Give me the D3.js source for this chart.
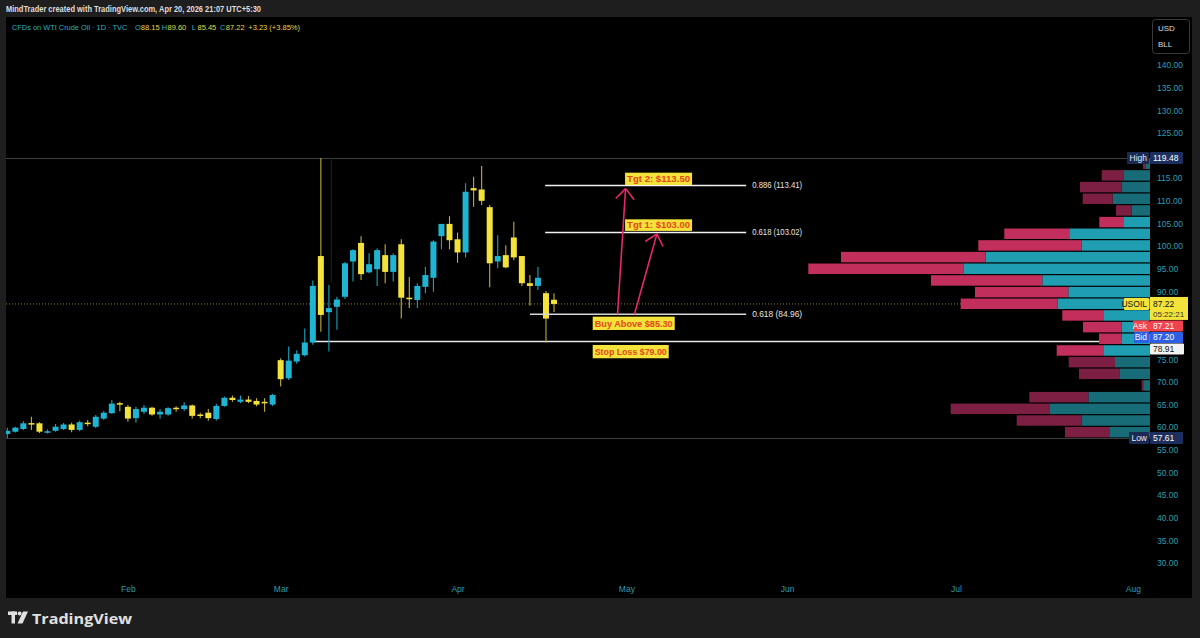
<!DOCTYPE html>
<html><head><meta charset="utf-8">
<script src="https://cdn.jsdelivr.net/npm/d3@7"></script>
<style>
body{margin:0;background:#1e1e1e;}
svg{display:block;font-family:"Liberation Sans","Open Sans",sans-serif;}
</style>
</head><body>
<svg id="c" width="1200" height="638"></svg>
<script>
// ---------- DATA ----------
const opens = [
  58.5,59.0,59.6,60.9,60.85,58.9,59.2,59.6,60.6,59.4,61.0,60.1,61.9,63.1,65.3,64.5,62.0,
  63.4,64.3,62.8,62.8,64.3,64.0,64.8,62.8,63.2,61.8,64.7,66.5,65.6,66.1,65.8,65.6,65.0,
  74.8,70.8,74.5,75.9,78.7,97.8,85.4,86.6,88.8,96.6,100.7,94.2,94.9,98.0,94.3,100.4,88.6,
  88.1,91.0,93.0,102.2,104.9,101.5,98.6,112.8,112.5,108.6,96.6,98.0,101.9,97.8,91.8,91.2,89.6,88.15];
const highs = [
  59.9,60.1,61.3,62.3,61.1,59.5,60.7,60.9,61.0,61.5,61.6,62.7,63.6,66.0,65.6,64.9,64.5,
  64.9,64.5,64.0,64.4,64.6,65.5,65.0,63.2,64.0,65.2,66.8,67.0,67.0,66.9,66.4,66.4,67.4,
  75.2,77.8,77.0,81.8,92.4,119.48,91.4,88.8,96.5,99.3,102.2,98.4,99.5,100.4,98.4,101.5,93.2,
  91.8,95.4,101.3,104.9,106.6,103.0,113.9,115.3,117.7,109.1,102.4,100.2,105.4,97.8,93.6,95.4,90.1,89.60];
const lows = [
  57.61,58.8,59.4,59.4,58.7,58.6,59.0,59.4,58.9,59.1,60.2,59.8,61.6,62.9,63.5,61.2,61.0,
  62.9,62.5,61.9,62.5,63.4,63.6,61.9,62.0,61.4,61.5,64.5,65.6,65.3,65.3,64.6,63.4,64.7,
  69.0,70.4,74.0,75.6,78.2,81.1,76.7,81.5,88.3,92.2,92.5,94.0,91.2,91.8,92.2,84.0,86.3,
  86.3,89.6,89.9,99.3,99.3,96.3,97.5,108.7,109.1,90.9,95.1,95.1,96.9,91.2,86.8,90.3,78.7,85.45];
const closes = [
  59.2,59.9,60.85,60.7,59.0,59.1,60.1,60.6,59.4,61.1,60.8,62.3,63.2,65.2,65.0,61.9,64.0,
  64.3,62.8,63.4,64.2,64.0,64.8,62.5,62.5,62.0,64.7,66.5,66.0,66.1,65.6,65.0,65.3,67.1,
  70.6,74.7,76.2,78.7,91.2,84.8,86.3,88.2,96.2,99.1,93.8,96.0,99.1,94.3,98.0,88.6,88.3,
  91.2,93.6,101.0,104.9,101.3,98.6,112.0,112.3,110.0,96.2,97.8,95.3,97.5,91.8,91.2,93.0,83.99,87.22];

const monthLabels = ["Feb","Mar","Apr","May","Jun","Jul","Aug"];
const monthBars   = [15,34,56,77,97,118,140];
const priceTicks  = [30,35,40,45,50,55,60,65,70,75,80,85,90,95,100,105,110,115,120,125,130,135,140];

// volume profile rows (bottom -> top), from period low to period high
const profileLow = 57.61, profileHigh = 119.48;
const profileUp   = [40,68.3,100.7,61.7,6,30.7,35,46,28.3,28.3,46,92.3,81.7,107.7,186.7,164.3,68.3,80,26,18.3,37.3,28.3,26.7,4];
const profileDown = [45,65,98.6,59,2.3,40.3,46.3,47.3,22.7,38.7,41.7,97,93.3,111.3,155,144.7,103.4,65.7,24.7,15.7,30,41.7,21.6,3];
const valueAreaRows = [7,18];

const lastPrice = 87.22, askPrice = 87.21, bidPrice = 87.20, stopLevel = 78.91;
const fibLabels = ["0.886 (113.41)","0.618 (103.02)","0.618 (84.96)"];
const fibPrices = [113.41,103.02,84.96];
const fibStartBar = [66.9,66.9,65.0];
const fibEndBar = 91.9;
const noteTexts  = ["Tgt 2: $113.50","Tgt 1: $103.00","Buy Above $85.30","Stop Loss $79.00"];
const arrowFrom = [[75.9,84.96],[78.0,84.96]];
const arrowTo   = [[76.9,112.7],[80.8,102.7]];

// ---------- SETUP ----------
const svg = d3.select("#c");
const W=1200,H=638;
const x = d3.scaleLinear().domain([0,140]).range([7.3,1132.9]);
const y = d3.scaleLinear().domain([30,140]).range([563,65]);
const vol = d3.scaleLinear().domain([0,350]).range([0,350]);
const profileRight = 1150;

const UP="#1fb5d2", DN="#f4e23c", UPW="#1aa3bd", DNW="#bfb036";

svg.append("rect").attr("width",W).attr("height",H).attr("fill","#1e1e1e");
svg.append("rect").attr("x",6).attr("y",17).attr("width",1186).attr("height",581).attr("fill","#000");

const defs = svg.append("defs");
defs.append("clipPath").attr("id","plot").append("rect").attr("x",6).attr("y",17).attr("width",1144).attr("height",581);
const plot = svg.append("g").attr("clip-path","url(#plot)");

// high / low lines
[profileHigh, profileLow].forEach(p=>{
  plot.append("line").attr("x1",6).attr("x2",profileRight).attr("y1",Math.round(y(p))+0.5).attr("y2",Math.round(y(p))+0.5)
    .attr("stroke","#3e3e3e").attr("stroke-width",1);
});
// faint vertical anchor line
plot.append("line").attr("x1",x(40.3)).attr("x2",x(40.3)).attr("y1",y(profileHigh)).attr("y2",y(92))
  .attr("stroke","#24221a").attr("stroke-width",1);

// current price dotted line
plot.append("line").attr("x1",6).attr("x2",profileRight).attr("y1",y(lastPrice)).attr("y2",y(lastPrice))
  .attr("stroke","#8a7e2a").attr("stroke-width",1).attr("stroke-dasharray","1,2");

// stop line
plot.append("line").attr("x1",x(38)).attr("x2",profileRight).attr("y1",y(stopLevel)).attr("y2",y(stopLevel))
  .attr("stroke","#e8e8e8").attr("stroke-width",1.5);

// candles
const bars = d3.range(opens.length).map(i=>({i,o:opens[i],h:highs[i],l:lows[i],c:closes[i]}));
const cg = plot.append("g");
cg.selectAll("line.w").data(bars).join("line")
  .attr("x1",d=>x(d.i)).attr("x2",d=>x(d.i)).attr("y1",d=>y(d.h)).attr("y2",d=>y(d.l))
  .attr("stroke",d=>d.c>=d.o?UPW:DNW).attr("stroke-width",1.1);
cg.selectAll("rect.b").data(bars).join("rect")
  .attr("x",d=>x(d.i)-3).attr("width",6)
  .attr("y",d=>y(Math.max(d.o,d.c)))
  .attr("height",d=>Math.max(1.5,Math.abs(y(d.o)-y(d.c))))
  .attr("fill",d=>d.c>=d.o?UP:DN);

// fib lines
fibPrices.forEach((p,k)=>{
  plot.append("line").attr("x1",x(fibStartBar[k])).attr("x2",x(fibEndBar)).attr("y1",y(p)).attr("y2",y(p))
    .attr("stroke",k==2?"#d6d6d6":"#f2f2f2").attr("stroke-width",1.5);
  svg.append("text").attr("x",x(fibEndBar)+6).attr("y",y(p)+3).attr("fill","#e6e6e6")
    .attr("font-size",8.5).attr("textLength",50).attr("lengthAdjust","spacingAndGlyphs").text(fibLabels[k]);
});

// volume profile
const step = (profileHigh-profileLow)/profileUp.length;
const rows = profileUp.map((u,k)=>({k,u,d:profileDown[k],lo:profileLow+k*step,hi:profileLow+(k+1)*step}));
const pg = plot.append("g");
rows.forEach(r=>{
  const inVA = r.k>=valueAreaRows[0] && r.k<=valueAreaRows[1];
  const yt = y(r.hi)+0.6, h = y(r.lo)-y(r.hi)-1.2;
  const upW = vol(r.u), dnW = vol(r.d);
  pg.append("rect").attr("x",profileRight-upW).attr("y",yt).attr("width",upW).attr("height",h)
    .attr("fill",inVA?"#1f9eb1":"#176c78");
  pg.append("rect").attr("x",profileRight-upW-dnW).attr("y",yt).attr("width",dnW).attr("height",h)
    .attr("fill",inVA?"#c32f5d":"#7c1f42");
});

// arrows
const PINK="#e8266a";
arrowFrom.forEach((f,k)=>{
  const x1=x(f[0]),y1=y(f[1]),x2=x(arrowTo[k][0]),y2=y(arrowTo[k][1]);
  svg.append("line").attr("x1",x1).attr("y1",y1).attr("x2",x2).attr("y2",y2).attr("stroke",PINK).attr("stroke-width",1.6);
  const a=Math.atan2(y1-y2,x1-x2), L=14, s=0.72;
  [a+s,a-s].forEach(b=>{
    svg.append("line").attr("x1",x2).attr("y1",y2).attr("x2",x2+L*Math.cos(b)).attr("y2",y2+L*Math.sin(b))
      .attr("stroke",PINK).attr("stroke-width",1.6);
  });
});

// note boxes
function note(txt,bx,by,bw,bh){
  svg.append("rect").attr("x",bx).attr("y",by).attr("width",bw).attr("height",bh).attr("fill","#f4e33a");
  svg.append("text").attr("x",bx+2).attr("y",by+bh-3).attr("fill","#e4471b").attr("font-size",9.5)
    .attr("font-weight","bold").attr("textLength",bw-4).attr("lengthAdjust","spacingAndGlyphs").text(txt);
}
note(noteTexts[0], x(76.9)-0.5, y(fibPrices[0])-12.7, 67, 12.3);
note(noteTexts[1], x(76.9)-0.5, y(fibPrices[1])-13.1, 67, 11.6);
note(noteTexts[2], x(72.9)-0.7, y(fibPrices[2])+2.5, 82, 13.3);
note(noteTexts[3], x(72.9)-0.7, y(stopLevel)+3.4, 76, 13.3);

// ---------- PRICE SCALE LABEL BOXES (to hide covered ticks) ----------
const yH=y(profileHigh), yL=y(profileLow), yP=y(lastPrice);
const covered = [[yH-6,yH+6],[yP-7,yP+50.5],[yL-6,yL+6]];
const visibleTicks = priceTicks.filter(t=>{
  const ty=y(t); return !covered.some(c=>ty+4>c[0] && ty-4<c[1]);
});

// ---------- AXES ----------
const ya = svg.append("g").attr("transform","translate(1154,0)")
  .call(d3.axisRight(y).tickValues(visibleTicks).tickFormat(d3.format(".2f")).tickSize(0).tickPadding(3));
ya.select(".domain").remove();
ya.selectAll("text").attr("fill","#2d9db0").attr("font-size",8.5).attr("font-family","Liberation Sans");

const xa = svg.append("g").attr("transform","translate(0,582)")
  .call(d3.axisBottom(x).tickValues(monthBars).tickFormat((d,i)=>monthLabels[i]).tickSize(0).tickPadding(4));
xa.select(".domain").remove();
xa.selectAll("text").attr("fill","#2d9db0").attr("font-size",8.5).attr("font-family","Liberation Sans");

// ---------- PRICE SCALE LABELS ----------
function tag(txt,bx,by,bw,bh,bg,fg,anchor){
  svg.append("rect").attr("x",bx).attr("y",by).attr("width",bw).attr("height",bh).attr("fill",bg).attr("rx",1);
  svg.append("text").attr("x",anchor==="end"?bx+bw-2:bx+3).attr("y",by+bh/2+3).attr("text-anchor",anchor==="end"?"end":"start")
    .attr("fill",fg).attr("font-size",8.5).attr("font-family","Liberation Sans").text(txt);
}
tag("High",1127,yH-6,22,12,"#1b2a52","#e8e8f0","end");
tag(d3.format(".2f")(profileHigh),1150,yH-6,33,12,"#1c2f5e","#ffffff");
tag("Low",1129,yL-6,20,12,"#1b2a52","#e8e8f0","end");
tag(d3.format(".2f")(profileLow),1150,yL-6,33,12,"#1c2f5e","#ffffff");
tag("USOIL",1124,yP-6,25,12,"#f4e33a","#111","end");
svg.append("rect").attr("x",1150).attr("y",yP-7).attr("width",38).attr("height",23).attr("fill","#f4e33a");
svg.append("text").attr("x",1153).attr("y",yP+3).attr("fill","#111").attr("font-size",8.5).text(d3.format(".2f")(lastPrice));
svg.append("text").attr("x",1153).attr("y",yP+13.5).attr("fill","#333").attr("font-size",8).text("05:22:21");
tag("Ask",1133,yP+16.5,16,11,"#f0434f","#ffffff","end");
tag(d3.format(".2f")(askPrice),1150,yP+16.5,33,11,"#f0434f","#ffffff");
tag("Bid",1134,yP+28,15,11,"#2d5fe6","#ffffff","end");
tag(d3.format(".2f")(bidPrice),1150,yP+28,33,11,"#2d5fe6","#ffffff");
tag(d3.format(".2f")(stopLevel),1150,yP+39.5,34,11,"#f2f2f2","#111");

// currency box
svg.append("rect").attr("x",1152.5).attr("y",19.5).attr("width",37).attr("height",34).attr("rx",3)
  .attr("fill","#000").attr("stroke","#3a3a3a");
svg.append("text").attr("x",1158).attr("y",31).attr("fill","#dcdcdc").attr("font-size",8).text("USD");
svg.append("text").attr("x",1158).attr("y",47).attr("fill","#dcdcdc").attr("font-size",8).text("BLL");

// ---------- HEADER ----------
svg.append("text").attr("x",6).attr("y",11.5).attr("fill","#dedede").attr("font-size",8.5).attr("font-weight","bold")
  .attr("textLength",255).attr("lengthAdjust","spacingAndGlyphs")
  .text("MindTrader created with TradingView.com, Apr 20, 2026 21:07 UTC+5:30");
const TEAL="#2ab0c4", YEL="#e6d84a";
svg.append("text").attr("x",12).attr("y",30).attr("font-size",7.4).attr("fill",TEAL)
  .text("CFDs on WTI Crude Oil · 1D · TVC");
const ohlcKeys = ["O","H","L","C"];
const ohlcVals = [opens[68],highs[68],lows[68],closes[68]];
const ohlcX = [135,161.7,191.7,220];
ohlcKeys.forEach((kk,k)=>{
  svg.append("text").attr("x",ohlcX[k]).attr("y",30).attr("font-size",7.5).attr("fill",TEAL).text(kk);
  svg.append("text").attr("x",ohlcX[k]+5.8).attr("y",30).attr("font-size",7.5).attr("fill",YEL)
    .text(d3.format(".2f")(ohlcVals[k]));
});
const chg = closes[68]-closes[67];
svg.append("text").attr("x",248.3).attr("y",30).attr("font-size",7.5).attr("fill",YEL)
  .text("+"+d3.format(".2f")(chg)+" (+"+d3.format(".2f")(chg/closes[67]*100)+"%)");

// ---------- FOOTER LOGO ----------
const lg = svg.append("g").attr("fill","#e0e0e0");
lg.append("rect").attr("x",8).attr("y",611.5).attr("width",9).attr("height",3.5);
lg.append("rect").attr("x",11.5).attr("y",611.5).attr("width",3.5).attr("height",12);
lg.append("circle").attr("cx",19.6).attr("cy",613.5).attr("r",2);
lg.append("path").attr("d","M23,611.5 L28,611.5 L22.5,623.5 L17.5,623.5 Z");
svg.append("text").attr("x",32).attr("y",623.5).attr("fill","#e0e0e0").attr("font-size",15).attr("font-weight","bold")
  .attr("font-family","Open Sans").attr("textLength",100).attr("lengthAdjust","spacingAndGlyphs").text("TradingView");
</script>
</body></html>
